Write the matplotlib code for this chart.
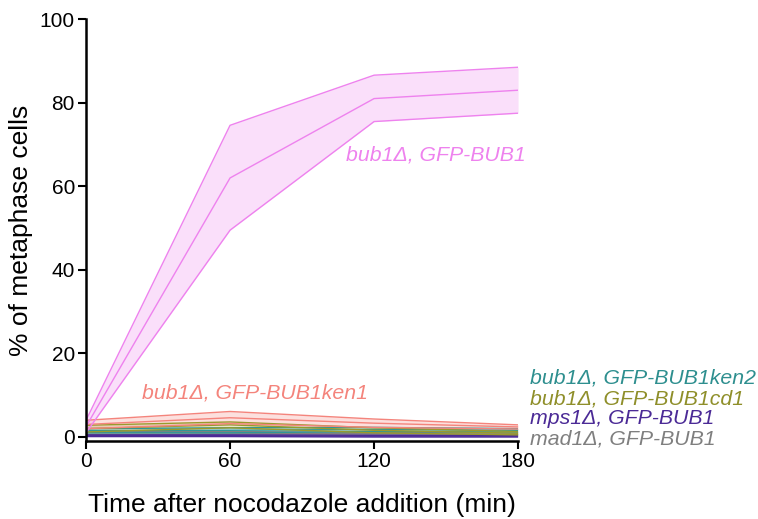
import matplotlib.pyplot as plt

plt.rcParams['font.family'] = ['Liberation Sans', 'DejaVu Sans']

time = [0, 60, 120, 180]

# mean and upper/lower band for each strain
bub1_mean = [2.5, 62.0, 81.0, 83.0]
bub1_up = [4.0, 74.6, 86.6, 88.5]
bub1_lo = [1.0, 49.5, 75.5, 77.5]

ken1_mean = [3.0, 4.6, 3.3, 2.4]
ken1_up = [4.0, 6.1, 4.3, 2.9]
ken1_lo = [2.0, 3.2, 2.3, 1.9]

cd1_mean = [2.0, 2.9, 1.6, 0.9]
cd1_up = [2.8, 3.6, 2.2, 1.3]
cd1_lo = [1.2, 2.2, 1.0, 0.5]

ken2_mean = [1.5, 1.6, 1.8, 1.6]
ken2_up = [2.0, 2.2, 2.3, 2.0]
ken2_lo = [1.0, 1.0, 1.3, 1.2]

mad1_mean = [1.0, 0.9, 0.8, 0.6]
mad1_up = [1.4, 1.3, 1.1, 0.9]
mad1_lo = [0.6, 0.5, 0.5, 0.3]

mps1_mean = [0.3, 0.3, 0.2, 0.2]
mps1_up = [0.5, 0.5, 0.4, 0.4]
mps1_lo = [0.1, 0.1, 0.0, 0.0]

series = [
    (mad1_mean, mad1_up, mad1_lo, '#808080'),
    (mps1_mean, mps1_up, mps1_lo, '#4B2A96'),
    (ken2_mean, ken2_up, ken2_lo, '#2E9696'),
    (cd1_mean, cd1_up, cd1_lo, '#9A9A2C'),
    (ken1_mean, ken1_up, ken1_lo, '#F4847C'),
    (bub1_mean, bub1_up, bub1_lo, '#EE82EE'),
]

fig = plt.figure(figsize=(7.58, 5.19), dpi=100)
ax = fig.add_axes([0.1135, 0.150, 0.570, 0.813])

for mean, up, lo, col in series:
    ax.fill_between(time, lo, up, color=col, alpha=0.25, lw=0)
    ax.plot(time, up, color=col, lw=1)
    ax.plot(time, lo, color=col, lw=1)
    ax.plot(time, mean, color=col, lw=1)

ax.set_xlim(0, 180)
ax.set_ylim(-1, 100)
ax.set_xticks([0, 60, 120, 180])
ax.set_yticks([0, 20, 40, 60, 80, 100])
ax.tick_params(labelsize=15, width=1.5, length=6, pad=2)
ax.spines['top'].set_visible(False)
ax.spines['right'].set_visible(False)
ax.spines['left'].set_linewidth(1.8)
ax.spines['bottom'].set_linewidth(1.8)

ax.set_xlabel('Time after nocodazole addition (min)', fontsize=19, labelpad=16)
ax.set_ylabel('% of metaphase cells', fontsize=19, labelpad=5)

ax.text(108.5, 67.5, 'bub1Δ, GFP-BUB1', color='#EE82EE', fontsize=15.3,
        style='italic', va='center')
ax.text(23.5, 10.5, 'bub1Δ, GFP-BUB1ken1', color='#F4847C', fontsize=15.3,
        style='italic', va='center')

right_labels = [
    ('bub1Δ, GFP-BUB1ken2', '#2E8F8F', 14.2),
    ('bub1Δ, GFP-BUB1cd1', '#8F8F2A', 9.2),
    ('mps1Δ, GFP-BUB1', '#4B2A96', 4.4),
    ('mad1Δ, GFP-BUB1', '#7F7F7F', -0.4),
]
for txt, col, y in right_labels:
    ax.text(185, y, txt, color=col, fontsize=15.3, style='italic',
            va='center', clip_on=False)

fig.savefig('out.png', dpi=100)
